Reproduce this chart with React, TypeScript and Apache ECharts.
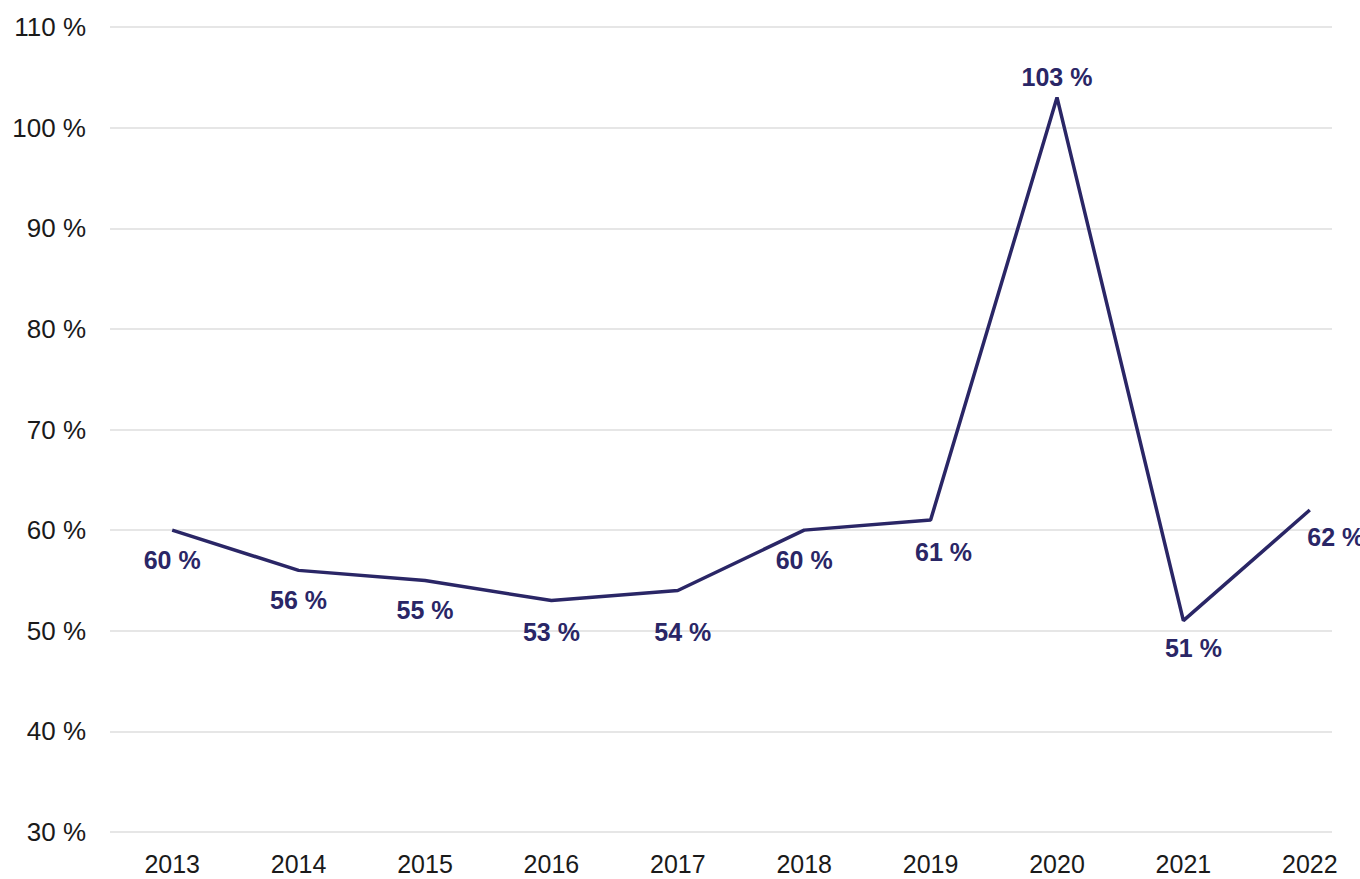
import React, { useEffect, useRef } from "react";
import * as echarts from "echarts";

const years = ["2013", "2014", "2015", "2016", "2017", "2018", "2019", "2020", "2021", "2022"];
const shares = [60, 56, 55, 53, 54, 60, 61, 103, 51, 62];
const yTicks = { min: 30, max: 110, interval: 10 };

const NAVY = "#2a2666";
const FONT = "Liberation Sans, Arial, sans-serif";

// label nudges (dx, dy) in pixels per year
const labelNudges: Record<string, [number, number]> = {
  "2016": [0, 2],
  "2017": [5, 12],
  "2019": [13, 2],
  "2020": [0, 3],
  "2021": [10, -2],
  "2022": [26, -3],
};

export default function App() {
  const ref = useRef<HTMLDivElement>(null);
  useEffect(() => {
    if (!ref.current) return;
    const chart = echarts.init(ref.current, null, { renderer: "svg" });
    chart.setOption({
      animation: false,
      backgroundColor: "#ffffff",
      grid: [
        { left: 109, width: 1264, top: 27, height: 805, outerBoundsMode: "none", containLabel: false },
        { left: 110, width: 1222, top: 27, height: 805, outerBoundsMode: "none", containLabel: false },
      ],
      xAxis: [
        {
          type: "category",
          gridIndex: 0,
          data: years,
          boundaryGap: true,
          axisLine: { show: false },
          axisTick: { show: false },
          axisLabel: {
            color: "#1a1a1a",
            fontSize: 25,
            fontFamily: FONT,
            margin: 19,
          },
          splitLine: { show: false },
        },
        { type: "value", gridIndex: 1, show: false },
      ],
      yAxis: [
        {
          type: "value",
          gridIndex: 0,
          show: false,
          min: yTicks.min,
          max: yTicks.max,
          interval: yTicks.interval,
          splitLine: { show: false },
        },
        {
          type: "value",
          gridIndex: 1,
          min: yTicks.min,
          max: yTicks.max,
          interval: yTicks.interval,
          axisLine: { show: false },
          axisTick: { show: false },
          axisLabel: {
            formatter: "{value} %",
            color: "#1a1a1a",
            fontSize: 26,
            fontFamily: FONT,
            margin: 24,
          },
          splitLine: { show: true, lineStyle: { color: "#e6e6e6", width: 2 } },
        },
      ],
      series: [
        {
          type: "line",
          xAxisIndex: 0,
          yAxisIndex: 0,
          data: shares.map((v, i) =>
            years[i] === "2020"
              ? { value: v, label: { position: "top", distance: 10 } }
              : { value: v }
          ),
          symbol: "circle",
          symbolSize: 2,
          showSymbol: true,
          showAllSymbol: true,
          itemStyle: { color: "rgba(0,0,0,0)", borderWidth: 0 },
          lineStyle: { color: NAVY, width: 3.5 },
          label: {
            show: true,
            position: "bottom",
            distance: 16,
            formatter: "{c} %",
            color: NAVY,
            fontSize: 25,
            fontWeight: "bold",
            fontFamily: FONT,
          },
          labelLayout: (params: any) => {
            const n = labelNudges[years[params.dataIndex]];
            return n ? { dx: n[0], dy: n[1], hideOverlap: false } : { hideOverlap: false };
          },
        },
      ],
    });
    return () => chart.dispose();
  }, []);
  return (
    <div
      ref={ref}
      style={{ position: "fixed", left: 0, top: 0, width: 1360, height: 879 }}
    />
  );
}
